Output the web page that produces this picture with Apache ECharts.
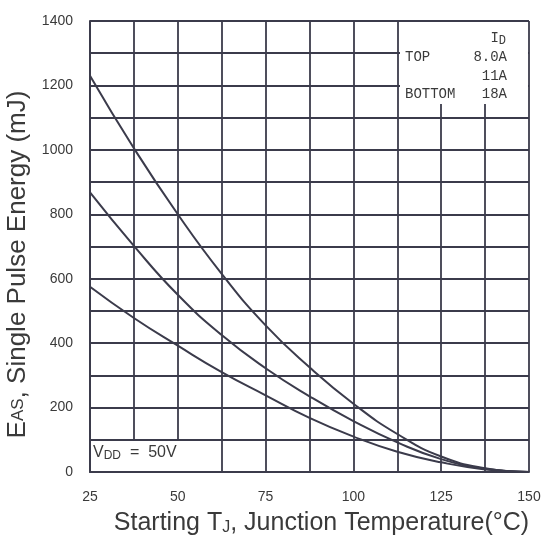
<!DOCTYPE html>
<html><head><meta charset="utf-8">
<script src="https://cdn.jsdelivr.net/npm/echarts@6/dist/echarts.min.js"></script>
<style>html,body{margin:0;padding:0;background:#fff}#c{width:546px;height:543px}</style>
</head><body><div id="c"></div>
<script>
var temps = [25, 37.5, 50, 62.5, 75, 87.5, 100, 112.5, 125, 137.5, 150];
var e8A  = [1230, 1005, 800, 615, 455, 325, 212, 118, 48, 12, 0];
var e11A = [868, 702, 550, 425, 322, 235, 158, 92, 40, 10, 0];
var e18A = [575, 478, 392, 310, 238, 168, 110, 63, 30, 8, 0];
var xTicks = [25, 50, 75, 100, 125, 150];
var yTicks = [0, 200, 400, 600, 800, 1000, 1200, 1400];
var seriesNames = ['8.0A', '11A', '18A'];

var ink = '#3b3b4b';
var txt = '#3a3a3a';
function pts(arr){ return temps.map(function(t,i){ return [t, arr[i]]; }); }
var chart = echarts.init(document.getElementById('c'));
var lineStyle = {color: ink, width: 2};
var mono = '"Liberation Mono"';
chart.setOption({
  backgroundColor: '#fff',
  animation: false,
  grid: {left: 90, right: 17, top: 21, bottom: 71, outerBoundsMode: 'none', containLabel: false},
  xAxis: {
    type: 'value', min: 25, max: 150, interval: 12.5,
    axisLine: {show: true, lineStyle: {color: ink, width: 2}},
    axisTick: {show: false},
    splitLine: {show: true, lineStyle: {color: ink, width: 1.8}},
    axisLabel: {margin: 18, color: txt, fontSize: 14, fontFamily: 'Liberation Sans',
      formatter: function(v){ return xTicks.indexOf(v) >= 0 ? String(v) : ''; }},
    name: 'Starting T{s|J}, Junction Temperature(°C)',
    nameLocation: 'middle', nameGap: 38,
    nameTextStyle: {color: txt, fontSize: 25, fontFamily: 'Liberation Sans', padding: [0,0,0,24],
      rich: {s: {fontSize: 16, verticalAlign: 'bottom', padding: [10,0,0,0], color: txt, fontFamily: 'Liberation Sans'}}}
  },
  yAxis: {
    type: 'value', min: 0, max: 1400, interval: 100,
    axisLine: {show: true, lineStyle: {color: ink, width: 2}},
    axisTick: {show: false},
    splitLine: {show: true, lineStyle: {color: ink, width: 1.8}},
    axisLabel: {margin: 17, color: txt, fontSize: 14, fontFamily: 'Liberation Sans',
      formatter: function(v){ return yTicks.indexOf(v) >= 0 ? String(v) : ''; }},
    name: 'E{s|AS}, Single Pulse Energy (mJ)',
    nameLocation: 'middle', nameGap: 52, nameRotate: 90,
    nameTextStyle: {color: txt, fontSize: 26, fontFamily: 'Liberation Sans', padding: [0, 36, 0, 0],
      rich: {s: {fontSize: 17, color: txt, fontFamily: 'Liberation Sans'}}}
  },
  series: [
    {name: seriesNames[0], type: 'line', data: pts(e8A), smooth: 0.5, showSymbol: false, lineStyle: lineStyle, z: 5},
    {name: seriesNames[1], type: 'line', data: pts(e11A), smooth: 0.5, showSymbol: false, lineStyle: lineStyle, z: 5},
    {name: seriesNames[2], type: 'line', data: pts(e18A), smooth: 0.5, showSymbol: false, lineStyle: lineStyle, z: 5}
  ],
  graphic: [
    {type: 'rect', shape: {x: 400, y: 22, width: 128, height: 82}, style: {fill: '#fff'}, z: 10},
    {type: 'text', x: 506, y: 29, style: {text: 'I{s|D}', textAlign: 'right', fill: txt, font: '14px ' + mono,
      rich: {s: {font: '12px ' + mono, fill: txt, padding: [6,0,0,0]}}}, z: 11},
    {type: 'text', x: 405, y: 50, style: {text: 'TOP', fill: txt, font: '14px ' + mono}, z: 11},
    {type: 'text', x: 507, y: 50, style: {text: seriesNames[0], textAlign: 'right', fill: txt, font: '14px ' + mono}, z: 11},
    {type: 'text', x: 507, y: 69, style: {text: seriesNames[1], textAlign: 'right', fill: txt, font: '14px ' + mono}, z: 11},
    {type: 'text', x: 405, y: 87, style: {text: 'BOTTOM', fill: txt, font: '14px ' + mono}, z: 11},
    {type: 'text', x: 507, y: 87, style: {text: seriesNames[2], textAlign: 'right', fill: txt, font: '14px ' + mono}, z: 11},
    {type: 'rect', shape: {x: 91, y: 441, width: 110, height: 30}, style: {fill: '#fff'}, z: 10},
    {type: 'text', x: 93, y: 444, style: {text: 'V{s|DD}  =  50V', fill: txt, font: '16px "Liberation Sans"',
      rich: {s: {font: '12px "Liberation Sans"', fill: txt, padding: [6,0,0,0]}}}, z: 11}
  ]
});
</script></body></html>
